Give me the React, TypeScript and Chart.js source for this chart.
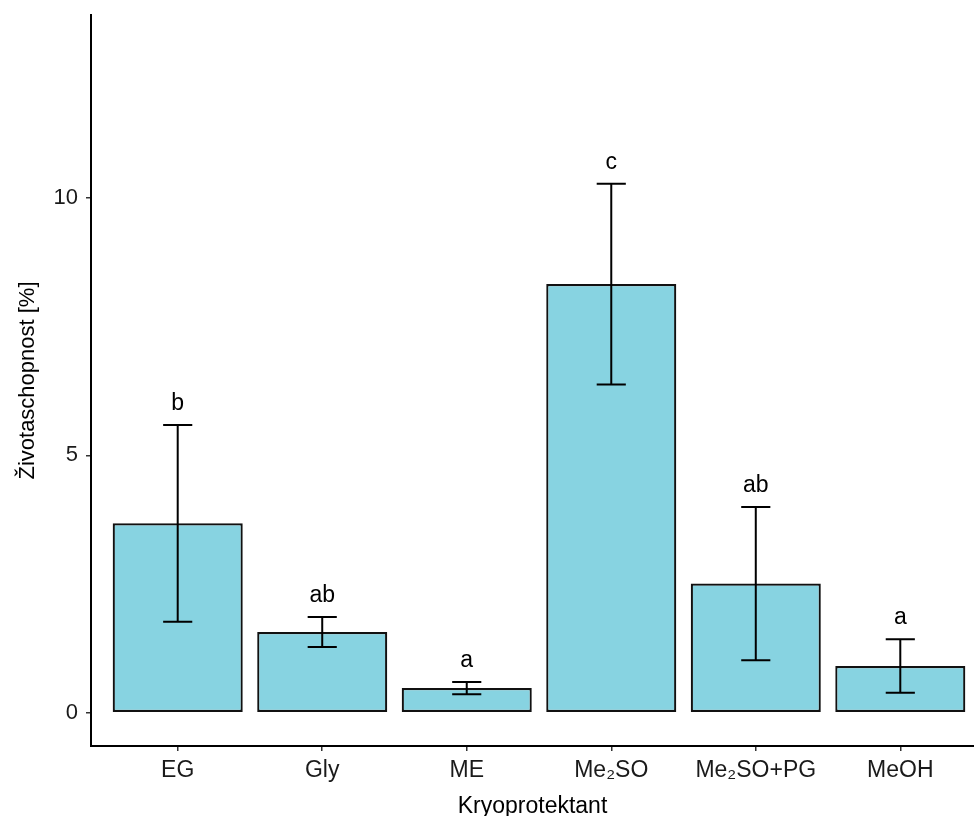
import React, { useEffect, useRef } from "react";
import { Chart, registerables } from "chart.js";

Chart.register(...registerables);

// Cryoprotectant treatments
const categories = ["EG", "Gly", "ME", "Me\u2082SO", "Me\u2082SO+PG", "MeOH"];
// Mean viability [%]
const means = [3.68, 1.57, 0.48, 8.33, 2.51, 0.91];
// Standard deviation of viability [%]
const errors = [1.91, 0.29, 0.12, 1.95, 1.49, 0.52];
// Significance group letters
const groupLetters = ["b", "ab", "a", "c", "ab", "a"];
// Y-axis tick values
const yTicks = [0, 5, 10];

const FONT = '"Liberation Sans", Arial, sans-serif';

const errorBarPlugin = {
  id: "errorBarsAndLetters",
  afterDatasetsDraw(chart: any) {
    const { ctx, scales } = chart;
    const y = scales.y;
    const meta = chart.getDatasetMeta(0);
    ctx.save();
    ctx.strokeStyle = "#000";
    ctx.lineWidth = 2;
    ctx.lineCap = "butt";
    means.forEach((m, i) => {
      const bar = meta.data[i];
      if (!bar) return;
      const { x, width } = bar.getProps(["x", "width"], true);
      const hi = y.getPixelForValue(m + errors[i]);
      const lo = y.getPixelForValue(m - errors[i]);
      const half = width * 0.112;
      ctx.beginPath();
      ctx.moveTo(x, hi);
      ctx.lineTo(x, lo);
      ctx.moveTo(x - half, hi);
      ctx.lineTo(x + half, hi);
      ctx.moveTo(x - half, lo);
      ctx.lineTo(x + half, lo);
      ctx.stroke();

      ctx.fillStyle = "#000";
      ctx.font = `23px ${FONT}`;
      ctx.textAlign = "center";
      ctx.textBaseline = "alphabetic";
      ctx.fillText(groupLetters[i], x, hi - 15);
    });
    ctx.restore();
  },
};

export default function App() {
  const canvasRef = useRef<HTMLCanvasElement | null>(null);

  useEffect(() => {
    const canvas = canvasRef.current;
    if (!canvas) return;
    const chart = new Chart(canvas, {
      type: "bar",
      data: {
        datasets: [
          {
            data: means.map((m, i) => ({ x: i, y: m })),
            backgroundColor: "#87D3E1",
            borderColor: "#111",
            borderWidth: 2.2,
            borderSkipped: false,
            barPercentage: 0.9,
            categoryPercentage: 1,
          },
        ],
      },
      options: {
        responsive: false,
        animation: false,
        devicePixelRatio: 1,
        layout: { padding: { top: 15, right: 0, bottom: 0, left: 0 } },
        plugins: {
          legend: { display: false },
          tooltip: { enabled: false },
        },
        scales: {
          x: {
            type: "linear",
            offset: false,
            min: -0.6,
            max: 5.51,
            afterBuildTicks: (scale: any) => {
              scale.ticks = categories.map((_, i) => ({ value: i }));
            },
            afterFit: (scale: any) => {
              scale.height = 70;
            },
            ticks: {
              autoSkip: false,
              maxRotation: 0,
              padding: 6,
              color: "#1a1a1a",
              font: { family: FONT, size: 23 },
              callback: (v: any) => categories[v] ?? "",
            },
            grid: {
              offset: false,
              drawOnChartArea: false,
              tickLength: 5,
              color: "#333",
              lineWidth: 1.5,
            },
            border: { display: true, color: "#000", width: 2 },
            title: {
              display: true,
              text: "Kryoprotektant",
              color: "#000",
              font: { family: FONT, size: 23 },
              padding: { top: 0, bottom: -4 },
            },
          },
          y: {
            type: "linear",
            min: -0.645,
            max: 13.556,
            afterBuildTicks: (scale: any) => {
              scale.ticks = yTicks.map((v) => ({ value: v }));
            },
            afterFit: (scale: any) => {
              scale.width = 91;
              scale.paddingTop = 0;
              scale.paddingBottom = 0;
            },
            ticks: {
              padding: 8,
              color: "#1a1a1a",
              font: { family: FONT, size: 22 },
              callback: (v: any) => String(v),
            },
            grid: {
              drawOnChartArea: false,
              tickLength: 5,
              color: "#333",
              lineWidth: 1.5,
            },
            border: { display: true, color: "#000", width: 2 },
            title: {
              display: true,
              text: "Životaschopnost [%]",
              color: "#000",
              font: { family: FONT, size: 22 },
              padding: { top: 15, bottom: 0 },
            },
          },
        },
      },
      plugins: [errorBarPlugin],
    });
    return () => chart.destroy();
  }, []);

  return (
    <div style={{ position: "fixed", left: 0, top: 0, width: 974, height: 816, background: "#fff" }}>
      <canvas ref={canvasRef} width={974} height={816} style={{ display: "block" }} />
    </div>
  );
}
